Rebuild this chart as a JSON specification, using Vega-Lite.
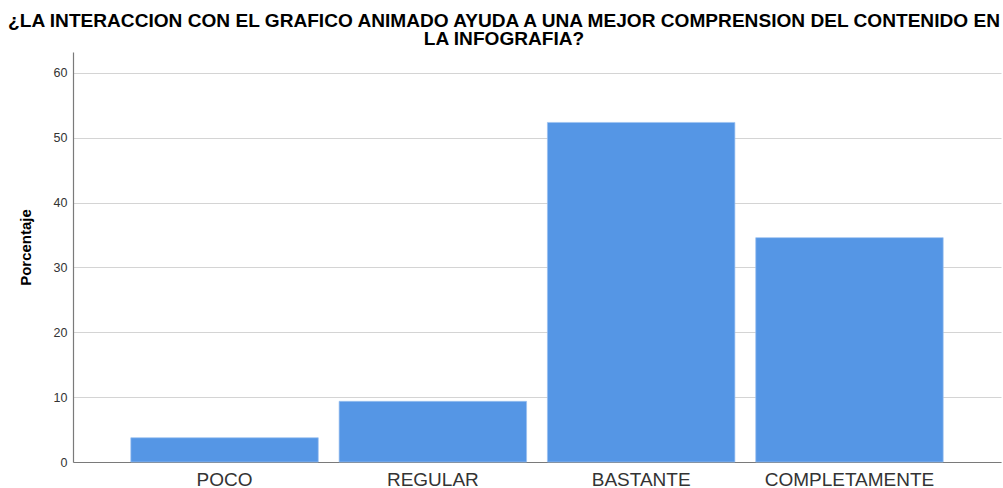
{
  "$schema": "https://vega.github.io/schema/vega-lite/v6.json",
  "width": 928,
  "height": 410,
  "autosize": {"type": "none"},
  "padding": {"left": 73, "top": 52, "right": 2, "bottom": 26},
  "background": "white",
  "title": {
    "text": ["¿LA INTERACCION CON EL GRAFICO ANIMADO AYUDA A UNA MEJOR COMPRENSION DEL CONTENIDO EN", "LA INFOGRAFIA?"],
    "font": "Liberation Sans",
    "fontSize": 19.1,
    "fontWeight": "bold",
    "color": "#000000",
    "anchor": "middle",
    "dx": -33,
    "offset": 3,
    "lineHeight": 18
  },
  "data": {
    "values": [
      {"categoria": "POCO", "porcentaje": 3.74},
      {"categoria": "REGULAR", "porcentaje": 9.35},
      {"categoria": "BASTANTE", "porcentaje": 52.34},
      {"categoria": "COMPLETAMENTE", "porcentaje": 34.58}
    ]
  },
  "config": {
    "view": {"stroke": null},
    "font": "Liberation Sans"
  },
  "mark": {"type": "bar", "color": "#5596e5", "stroke": "#9cc2f0", "strokeWidth": 0.7},
  "encoding": {
    "x": {
      "field": "categoria",
      "type": "nominal",
      "sort": null,
      "scale": {"paddingInner": 0.1, "paddingOuter": 0.2775},
      "axis": {
        "title": null,
        "labelAngle": 0,
        "labelFont": "Liberation Sans",
        "labelFontSize": 19,
        "labelColor": "#333333",
        "labelPadding": 8,
        "ticks": false,
        "domainColor": "#7a7a7a",
        "domainWidth": 1.2,
        "grid": false
      }
    },
    "y": {
      "field": "porcentaje",
      "type": "quantitative",
      "scale": {"domain": [0, 63.2], "nice": false, "zero": true},
      "axis": {
        "title": "Porcentaje",
        "titleFont": "Liberation Sans",
        "titleFontSize": 15,
        "titleFontWeight": "bold",
        "titleColor": "#000000",
        "titleAngle": -90,
        "titleAlign": "center",
        "titleBaseline": "middle",
        "titleX": -48,
        "titleY": 195,
        "values": [0, 10, 20, 30, 40, 50, 60],
        "labelFont": "Liberation Sans",
        "labelFontSize": 12.5,
        "labelColor": "#333333",
        "labelPadding": 6,
        "ticks": false,
        "domainColor": "#7a7a7a",
        "domainWidth": 1.2,
        "grid": true,
        "gridColor": "#d4d4d4",
        "gridWidth": 1
      }
    }
  }
}
